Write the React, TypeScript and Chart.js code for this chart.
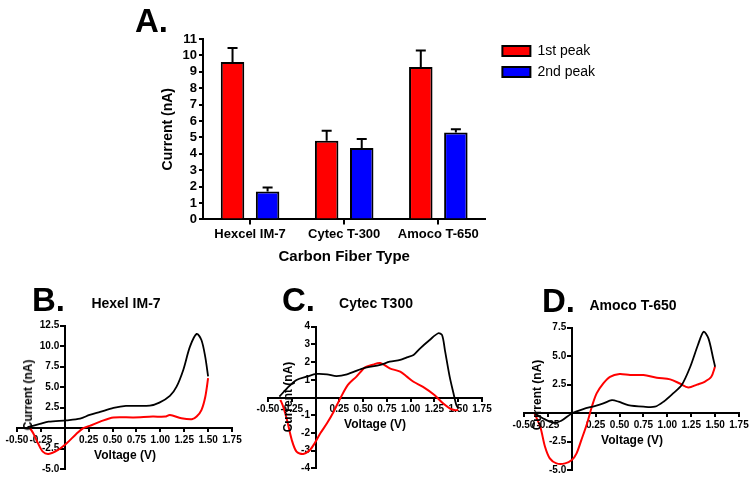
import React, { useEffect, useRef } from 'react';
import { Chart, registerables } from 'chart.js';

Chart.register(...registerables);

const FONT = "'Liberation Sans', Arial, Helvetica, sans-serif";
Chart.defaults.font.family = FONT;
Chart.defaults.color = '#000';

// ---------- Panel A: bar chart ----------
const fiberTypes = ['Hexcel IM-7', 'Cytec T-300', 'Amoco T-650'];
const firstPeak = [9.6, 4.8, 9.3];
const firstPeakErr = [0.85, 0.6, 1.0];
const secondPeak = [1.7, 4.35, 5.3];
const secondPeakErr = [0.25, 0.55, 0.2];
const barTicksY = { min: 0, max: 11, step: 1 };

// ---------- Panel B: Hexel IM-7 cyclic voltammogram ----------
const hexelFwdV = [-0.39, -0.26, -0.17, 0.02, 0.16, 0.26, 0.37, 0.51, 0.64, 0.89, 0.99, 1.1, 1.17, 1.24, 1.31, 1.38, 1.43, 1.47, 1.5];
const hexelFwdI = [0.1, 0.5, 0.78, 0.95, 1.15, 1.6, 1.97, 2.45, 2.7, 2.74, 3.1, 3.92, 5.06, 7.1, 9.94, 11.5, 10.76, 8.7, 6.3];
const hexelRevV = [1.5, 1.47, 1.43, 1.38, 1.33, 1.22, 1.1, 1.05, 0.92, 0.72, 0.51, 0.37, 0.26, 0.19, 0.12, 0.02, -0.07, -0.17, -0.23, -0.28, -0.33, -0.37];
const hexelRevI = [6.1, 3.8, 2.2, 1.4, 1.07, 1.2, 1.6, 1.4, 1.4, 1.3, 1.3, 0.79, 0.26, -0.03, -0.72, -1.86, -2.67, -3.16, -2.88, -1.86, -0.64, 0.1];

// ---------- Panel C: Cytec T300 ----------
const cytecFwdV = [-0.38, -0.3, -0.2, -0.09, 0.01, 0.12, 0.22, 0.33, 0.5, 0.68, 0.78, 0.89, 0.96, 1.03, 1.1, 1.2, 1.29, 1.33, 1.36, 1.41, 1.45, 1.48, 1.5];
const cytecFwdI = [0.05, 0.52, 0.99, 1.18, 1.33, 1.31, 1.21, 1.31, 1.65, 1.84, 2.02, 2.12, 2.27, 2.4, 2.78, 3.25, 3.63, 3.53, 2.68, 1.18, 0.24, -0.42, -0.61];
const cytecRevV = [1.5, 1.47, 1.41, 1.34, 1.25, 1.13, 1.03, 0.96, 0.89, 0.78, 0.68, 0.6, 0.52, 0.43, 0.34, 0.26, 0.19, 0.12, 0.05, -0.01, -0.06, -0.13, -0.2, -0.25, -0.3, -0.34, -0.37];
const cytecRevI = [-0.7, -0.72, -0.61, -0.33, 0.14, 0.6, 0.89, 1.18, 1.46, 1.65, 1.95, 1.85, 1.7, 1.18, 0.71, -0.05, -0.8, -1.46, -2.02, -2.59, -2.97, -3.19, -3.06, -2.4, -1.27, -0.52, -0.13];

// ---------- Panel D: Amoco T-650 ----------
const amocoFwdV = [-0.4, -0.3, -0.19, -0.11, 0.0, 0.12, 0.24, 0.33, 0.42, 0.49, 0.59, 0.75, 0.87, 0.96, 1.06, 1.15, 1.24, 1.32, 1.38, 1.43, 1.48, 1.5];
const amocoFwdI = [0.03, -0.47, -0.85, -0.68, -0.03, 0.35, 0.62, 0.85, 1.14, 1.0, 0.7, 0.56, 0.56, 1.0, 1.73, 2.46, 4.07, 5.98, 7.15, 6.56, 4.8, 4.07];
const amocoRevV = [1.5, 1.46, 1.39, 1.31, 1.22, 1.13, 1.03, 0.89, 0.75, 0.61, 0.5, 0.4, 0.33, 0.26, 0.21, 0.16, 0.1, 0.05, 0.0, -0.07, -0.16, -0.23, -0.28, -0.33, -0.39];
const amocoRevI = [4.1, 3.19, 2.75, 2.5, 2.25, 2.6, 2.96, 3.1, 3.34, 3.34, 3.43, 3.19, 2.61, 1.73, 0.56, -0.91, -2.37, -3.54, -4.13, -4.42, -4.42, -3.98, -2.96, -1.2, -0.03];

const voltageRange = { min: -0.5, max: 1.75, step: 0.25 };

const errorBarPlugin = {
  id: 'errorBars',
  afterDatasetsDraw(chart: any) {
    const errs = [firstPeakErr, secondPeakErr];
    const vals = [firstPeak, secondPeak];
    const ctx = chart.ctx;
    const yScale = chart.scales.y;
    ctx.save();
    ctx.strokeStyle = '#000';
    ctx.lineWidth = 2;
    for (let d = 0; d < 2; d++) {
      const meta = chart.getDatasetMeta(d);
      meta.data.forEach((bar: any, i: number) => {
        const x = bar.x;
        const yTop = yScale.getPixelForValue(vals[d][i] + errs[d][i]);
        const yBase = bar.y;
        ctx.beginPath();
        ctx.moveTo(x, yBase);
        ctx.lineTo(x, yTop);
        ctx.moveTo(x - 5, yTop);
        ctx.lineTo(x + 5, yTop);
        ctx.stroke();
      });
    }
    ctx.restore();
  },
};

const legendNudgePlugin = {
  id: 'legendNudge',
  afterLayout(chart: any) {
    const lg = chart.legend;
    if (lg) {
      lg.left += 10;
      lg.right += 10;
      lg.top -= 2;
      lg.bottom -= 2;
    }
  },
};

function ChartCanvas({ left, top, width, height, make }: any) {
  const ref = useRef<HTMLCanvasElement>(null);
  useEffect(() => {
    const chart = new Chart(ref.current as HTMLCanvasElement, make());
    return () => chart.destroy();
  }, []);
  return (
    <div style={{ position: 'absolute', left, top, width, height }}>
      <canvas ref={ref} width={width} height={height} style={{ display: 'block' }} />
    </div>
  );
}

const black = '#000000';

function barConfig(): any {
  return {
    type: 'bar',
    data: {
      labels: fiberTypes,
      datasets: [
        { label: '1st peak', data: firstPeak, backgroundColor: '#ff0000', borderColor: black, borderWidth: 2, barPercentage: 0.67, categoryPercentage: 0.745 },
        { label: '2nd peak', data: secondPeak, backgroundColor: '#0000ff', borderColor: black, borderWidth: 2, barPercentage: 0.67, categoryPercentage: 0.745 },
      ],
    },
    options: {
      responsive: false,
      animation: false,
      layout: { padding: { left: 0, top: 39, right: 159, bottom: 0 } },
      plugins: {
        legend: {
          position: 'right',
          align: 'start',
          labels: { boxWidth: 28, boxHeight: 10, padding: 7, color: black, font: { size: 14, family: FONT } },
        },
        tooltip: { enabled: false },
      },
      scales: {
        x: {
          grid: { offset: false, drawOnChartArea: false, drawTicks: true, tickLength: 5, color: black, lineWidth: 2 },
          border: { color: black, width: 2 },
          ticks: { font: { size: 13, weight: 'bold' }, color: black, padding: 2 },
          title: { display: true, text: 'Carbon Fiber Type', color: black, font: { size: 15, weight: 'bold' }, padding: { top: 4, bottom: 4 } },
        },
        y: {
          min: barTicksY.min,
          max: barTicksY.max,
          ticks: { stepSize: barTicksY.step, autoSkip: false, font: { size: 13, weight: 'bold' }, color: black, padding: 2 },
          grid: { drawOnChartArea: false, drawTicks: true, tickLength: 4, color: black, lineWidth: 2 },
          border: { color: black, width: 2 },
          title: { display: true, text: 'Current (nA)', color: black, font: { size: 14, weight: 'bold' }, padding: { top: 4, bottom: 0 } },
          afterFit: (s: any) => { s.width = 47; },
        },
      },
    },
    plugins: [errorBarPlugin, legendNudgePlugin],
  };
}

function pts(v: number[], c: number[]) {
  return v.map((x, i) => ({ x, y: c[i] }));
}

function cvConfig(fwdV: number[], fwdI: number[], revV: number[], revI: number[], yMin: number, yMax: number, yStep: number, yDec: number, pad: any): any {
  return {
    type: 'scatter',
    data: {
      datasets: [
        { label: 'Forward', data: pts(fwdV, fwdI), showLine: true, borderColor: black, borderWidth: 1.8, pointRadius: 0, tension: 0.3, fill: false },
        { label: 'Reverse', data: pts(revV, revI), showLine: true, borderColor: '#ff0000', borderWidth: 2, pointRadius: 0, tension: 0.3, fill: false },
      ],
    },
    options: {
      responsive: false,
      animation: false,
      layout: { padding: pad },
      plugins: { legend: { display: false }, tooltip: { enabled: false } },
      scales: {
        x: {
          type: 'linear',
          position: { y: 0 },
          min: voltageRange.min,
          max: voltageRange.max,
          ticks: {
            stepSize: voltageRange.step,
            autoSkip: false,
            maxRotation: 0,
            padding: 3,
            color: black,
            font: { size: 10, weight: 'bold' },
            callback: (v: any) => (Math.abs(Number(v)) < 1e-9 ? '' : Number(v).toFixed(2)),
          },
          grid: { drawOnChartArea: false, drawTicks: true, tickLength: 3, color: black, lineWidth: 2 },
          border: { color: black, width: 2 },
          afterFit: (s: any) => { s.height = 0; },
        },
        y: {
          type: 'linear',
          position: { x: 0 },
          min: yMin,
          max: yMax,
          ticks: {
            stepSize: yStep,
            autoSkip: false,
            padding: 2,
            color: black,
            font: { size: 10, weight: 'bold' },
            // trailing spaces keep the right-aligned labels clear of the axis line
            callback: (v: any) => (Math.abs(Number(v)) < 1e-9 ? '' : Number(v).toFixed(yDec) + '  '),
          },
          grid: { drawOnChartArea: false, drawTicks: true, tickLength: 4, color: black, lineWidth: 2 },
          border: { color: black, width: 2 },
          afterFit: (s: any) => { s.width = 0; },
        },
      },
    },
  };
}

const txt = (extra: any) => ({ position: 'absolute' as const, whiteSpace: 'nowrap' as const, color: '#000', fontFamily: FONT, fontWeight: 'bold' as const, lineHeight: 1, ...extra });

export default function App() {
  return (
    <div style={{ position: 'absolute', left: 0, top: 0, width: 754, height: 480, background: '#fff', overflow: 'hidden', fontFamily: FONT }}>
      <ChartCanvas left={156} top={0} width={598} height={270} make={barConfig} />
      <ChartCanvas left={0} top={300} width={250} height={180}
        make={() => cvConfig(hexelFwdV, hexelFwdI, hexelRevV, hexelRevI, -5, 12.5, 2.5, 1, { left: 17, right: 18, top: 25.7, bottom: 11 })} />
      <ChartCanvas left={250} top={300} width={254} height={180}
        make={() => cvConfig(cytecFwdV, cytecFwdI, cytecRevV, cytecRevI, -4, 4, 1, 0, { left: 18, right: 22, top: 26.7, bottom: 11.7 })} />
      <ChartCanvas left={500} top={300} width={254} height={180}
        make={() => cvConfig(amocoFwdV, amocoFwdI, amocoRevV, amocoRevI, -5, 7.5, 2.5, 1, { left: 24, right: 15, top: 27.7, bottom: 10 })} />

      <div style={txt({ left: 135, top: 4, fontSize: 33 })}>A.</div>
      <div style={txt({ left: 32, top: 283, fontSize: 33 })}>B.</div>
      <div style={txt({ left: 282, top: 283, fontSize: 33 })}>C.</div>
      <div style={txt({ left: 542, top: 284, fontSize: 33 })}>D.</div>

      <div style={txt({ left: 126, top: 303, fontSize: 14, transform: 'translate(-50%, -50%)' })}>Hexel IM-7</div>
      <div style={txt({ left: 376, top: 303, fontSize: 14, transform: 'translate(-50%, -50%)' })}>Cytec T300</div>
      <div style={txt({ left: 633, top: 305, fontSize: 14, transform: 'translate(-50%, -50%)' })}>Amoco T-650</div>

      <div style={txt({ left: 28, top: 395, fontSize: 12, transform: 'translate(-50%, -50%) rotate(-90deg)' })}>Current (nA)</div>
      <div style={txt({ left: 288, top: 397, fontSize: 12, transform: 'translate(-50%, -50%) rotate(-90deg)' })}>Current (nA)</div>
      <div style={txt({ left: 537, top: 395, fontSize: 12, transform: 'translate(-50%, -50%) rotate(-90deg)' })}>Current (nA)</div>

      <div style={txt({ left: 125, top: 455, fontSize: 12, transform: 'translate(-50%, -50%)' })}>Voltage (V)</div>
      <div style={txt({ left: 375, top: 424, fontSize: 12, transform: 'translate(-50%, -50%)' })}>Voltage (V)</div>
      <div style={txt({ left: 632, top: 440, fontSize: 12, transform: 'translate(-50%, -50%)' })}>Voltage (V)</div>
    </div>
  );
}
